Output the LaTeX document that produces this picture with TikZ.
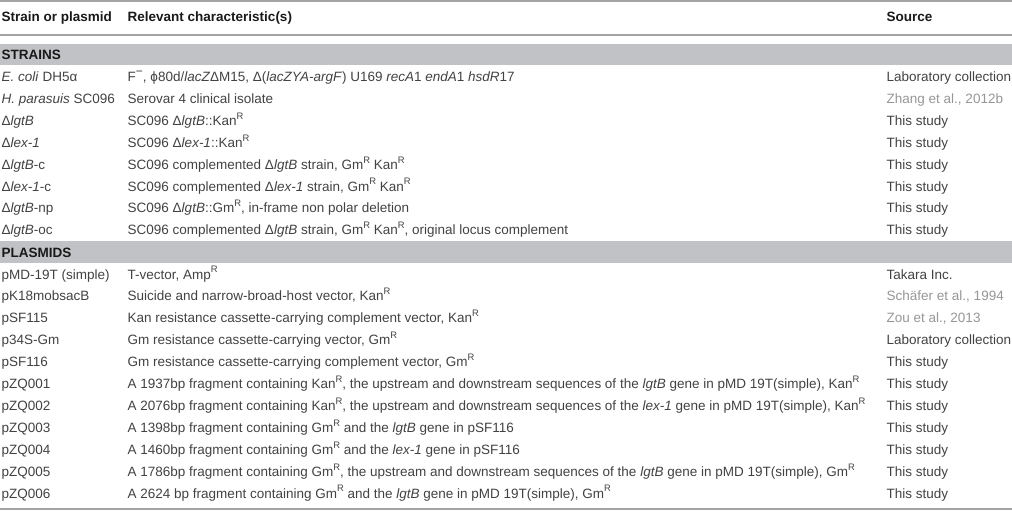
\documentclass[tikz,border=0pt]{standalone}
\usepackage{fontspec}
\setmainfont{Liberation Sans}
\definecolor{txtgray}{RGB}{66,66,66}
\definecolor{litgray}{RGB}{150,150,150}
\definecolor{bandgray}{RGB}{193,194,197}
\definecolor{rulegray}{RGB}{165,165,165}
\newcommand{\supr}[1]{\raisebox{.45em}{\fontsize{9.4}{10}\selectfont #1}}
\newcommand{\lit}[1]{\textcolor{litgray}{#1}}
\tikzset{
  txt/.style={anchor=base west,inner sep=0pt,text=txtgray,font=\fontsize{13.5}{16}\selectfont},
  head/.style={txt,text=black!90,font=\fontsize{13.5}{16}\selectfont\bfseries},
  rule/.style={draw=rulegray,line width=1.2pt},
  band/.style={fill=bandgray}
}
\begin{document}
\begin{tikzpicture}[x=1pt,y=-1pt]
		\useasboundingbox (0,0) rectangle (1012,511);
		% rules and bands
		\coordinate (TL) at (0,1);
		\coordinate (TR) at (1012,1);
		\coordinate (HL) at (0,35);
		\coordinate (HR) at (1012,35);
		\coordinate (BL) at (0,509);
		\coordinate (BR) at (1012,509);
		\draw[rule] (TL) -- (TR);
		\draw[rule] (HL) -- (HR);
		\draw[rule] (BL) -- (BR);
		\fill[band] (0,44) rectangle (1012,65);
		\fill[band] (0,241) rectangle (1012,263);
		% header
		\node[head] (hstrain) at (1.5,22) {Strain or plasmid};
		\node[head] (hchar) at (127.5,22) {Relevant characteristic(s)};
		\node[head] (hsrc) at (886.5,22) {Source};
		\node[head] (strains) at (1.5,59.5) {STRAINS};
		\node[head] (plasmids) at (1.5,257) {PLASMIDS};
		% strains
		\foreach \name/\what/\src [count=\i from 0] in {
			{\textit{E. coli} DH5α}/{F\supr{\fontsize{12}{12}\selectfont −}, ϕ80d/\textit{lacZ}ΔM15, Δ(\textit{lacZYA-argF}) U169 \textit{recA}1 \textit{endA}1 \textit{hsdR}17}/{Laboratory collection},
			{\textit{H. parasuis} SC096}/{Serovar 4 clinical isolate}/{\lit{Zhang et al., 2012b}},
			{Δ\textit{lgtB}}/{SC096 Δ\textit{lgtB}::Kan\supr{R}}/{This study},
			{Δ\textit{lex-1}}/{SC096 Δ\textit{lex-1}::Kan\supr{R}}/{This study},
			{Δ\textit{lgtB}-c}/{SC096 complemented Δ\textit{lgtB} strain, Gm\supr{R} Kan\supr{R}}/{This study},
			{Δ\textit{lex-1}-c}/{SC096 complemented Δ\textit{lex-1} strain, Gm\supr{R} Kan\supr{R}}/{This study},
			{Δ\textit{lgtB}-np}/{SC096 Δ\textit{lgtB}::Gm\supr{R}, in-frame non polar deletion}/{This study},
			{Δ\textit{lgtB}-oc}/{SC096 complemented Δ\textit{lgtB} strain, Gm\supr{R} Kan\supr{R}, original locus complement}/{This study}}
		{
		\node[txt] (strain\i) at (1.5,{81.5+21.9*\i}) {\name};
		\node[txt] (schar\i) at (127.5,{81.5+21.9*\i}) {\what};
		\node[txt] (ssrc\i) at (886.5,{81.5+21.9*\i}) {\src};
		}
		% plasmids
		\foreach \name/\what/\src [count=\i from 0] in {
			{pMD-19T (simple)}/{T-vector, Amp\supr{R}}/{Takara Inc.},
			{pK18mobsacB}/{Suicide and narrow-broad-host vector, Kan\supr{R}}/{\lit{Schäfer et al., 1994}},
			{pSF115}/{Kan resistance cassette-carrying complement vector, Kan\supr{R}}/{\lit{Zou et al., 2013}},
			{p34S-Gm}/{Gm resistance cassette-carrying vector, Gm\supr{R}}/{Laboratory collection},
			{pSF116}/{Gm resistance cassette-carrying complement vector, Gm\supr{R}}/{This study},
			{pZQ001}/{A 1937bp fragment containing Kan\supr{R}, the upstream and downstream sequences of the \textit{lgtB} gene in pMD 19T(simple), Kan\supr{R}}/{This study},
			{pZQ002}/{A 2076bp fragment containing Kan\supr{R}, the upstream and downstream sequences of the \textit{lex-1} gene in pMD 19T(simple), Kan\supr{R}}/{This study},
			{pZQ003}/{A 1398bp fragment containing Gm\supr{R} and the \textit{lgtB} gene in pSF116}/{This study},
			{pZQ004}/{A 1460bp fragment containing Gm\supr{R} and the \textit{lex-1} gene in pSF116}/{This study},
			{pZQ005}/{A 1786bp fragment containing Gm\supr{R}, the upstream and downstream sequences of the \textit{lgtB} gene in pMD 19T(simple), Gm\supr{R}}/{This study},
			{pZQ006}/{A 2624 bp fragment containing Gm\supr{R} and the \textit{lgtB} gene in pMD 19T(simple), Gm\supr{R}}/{This study}}
		{
		\node[txt] (plasmid\i) at (1.5,{279+21.9*\i}) {\name};
		\node[txt] (pchar\i) at (127.5,{279+21.9*\i}) {\what};
		\node[txt] (psrc\i) at (886.5,{279+21.9*\i}) {\src};
		}
	    \end{tikzpicture}
\end{document}
